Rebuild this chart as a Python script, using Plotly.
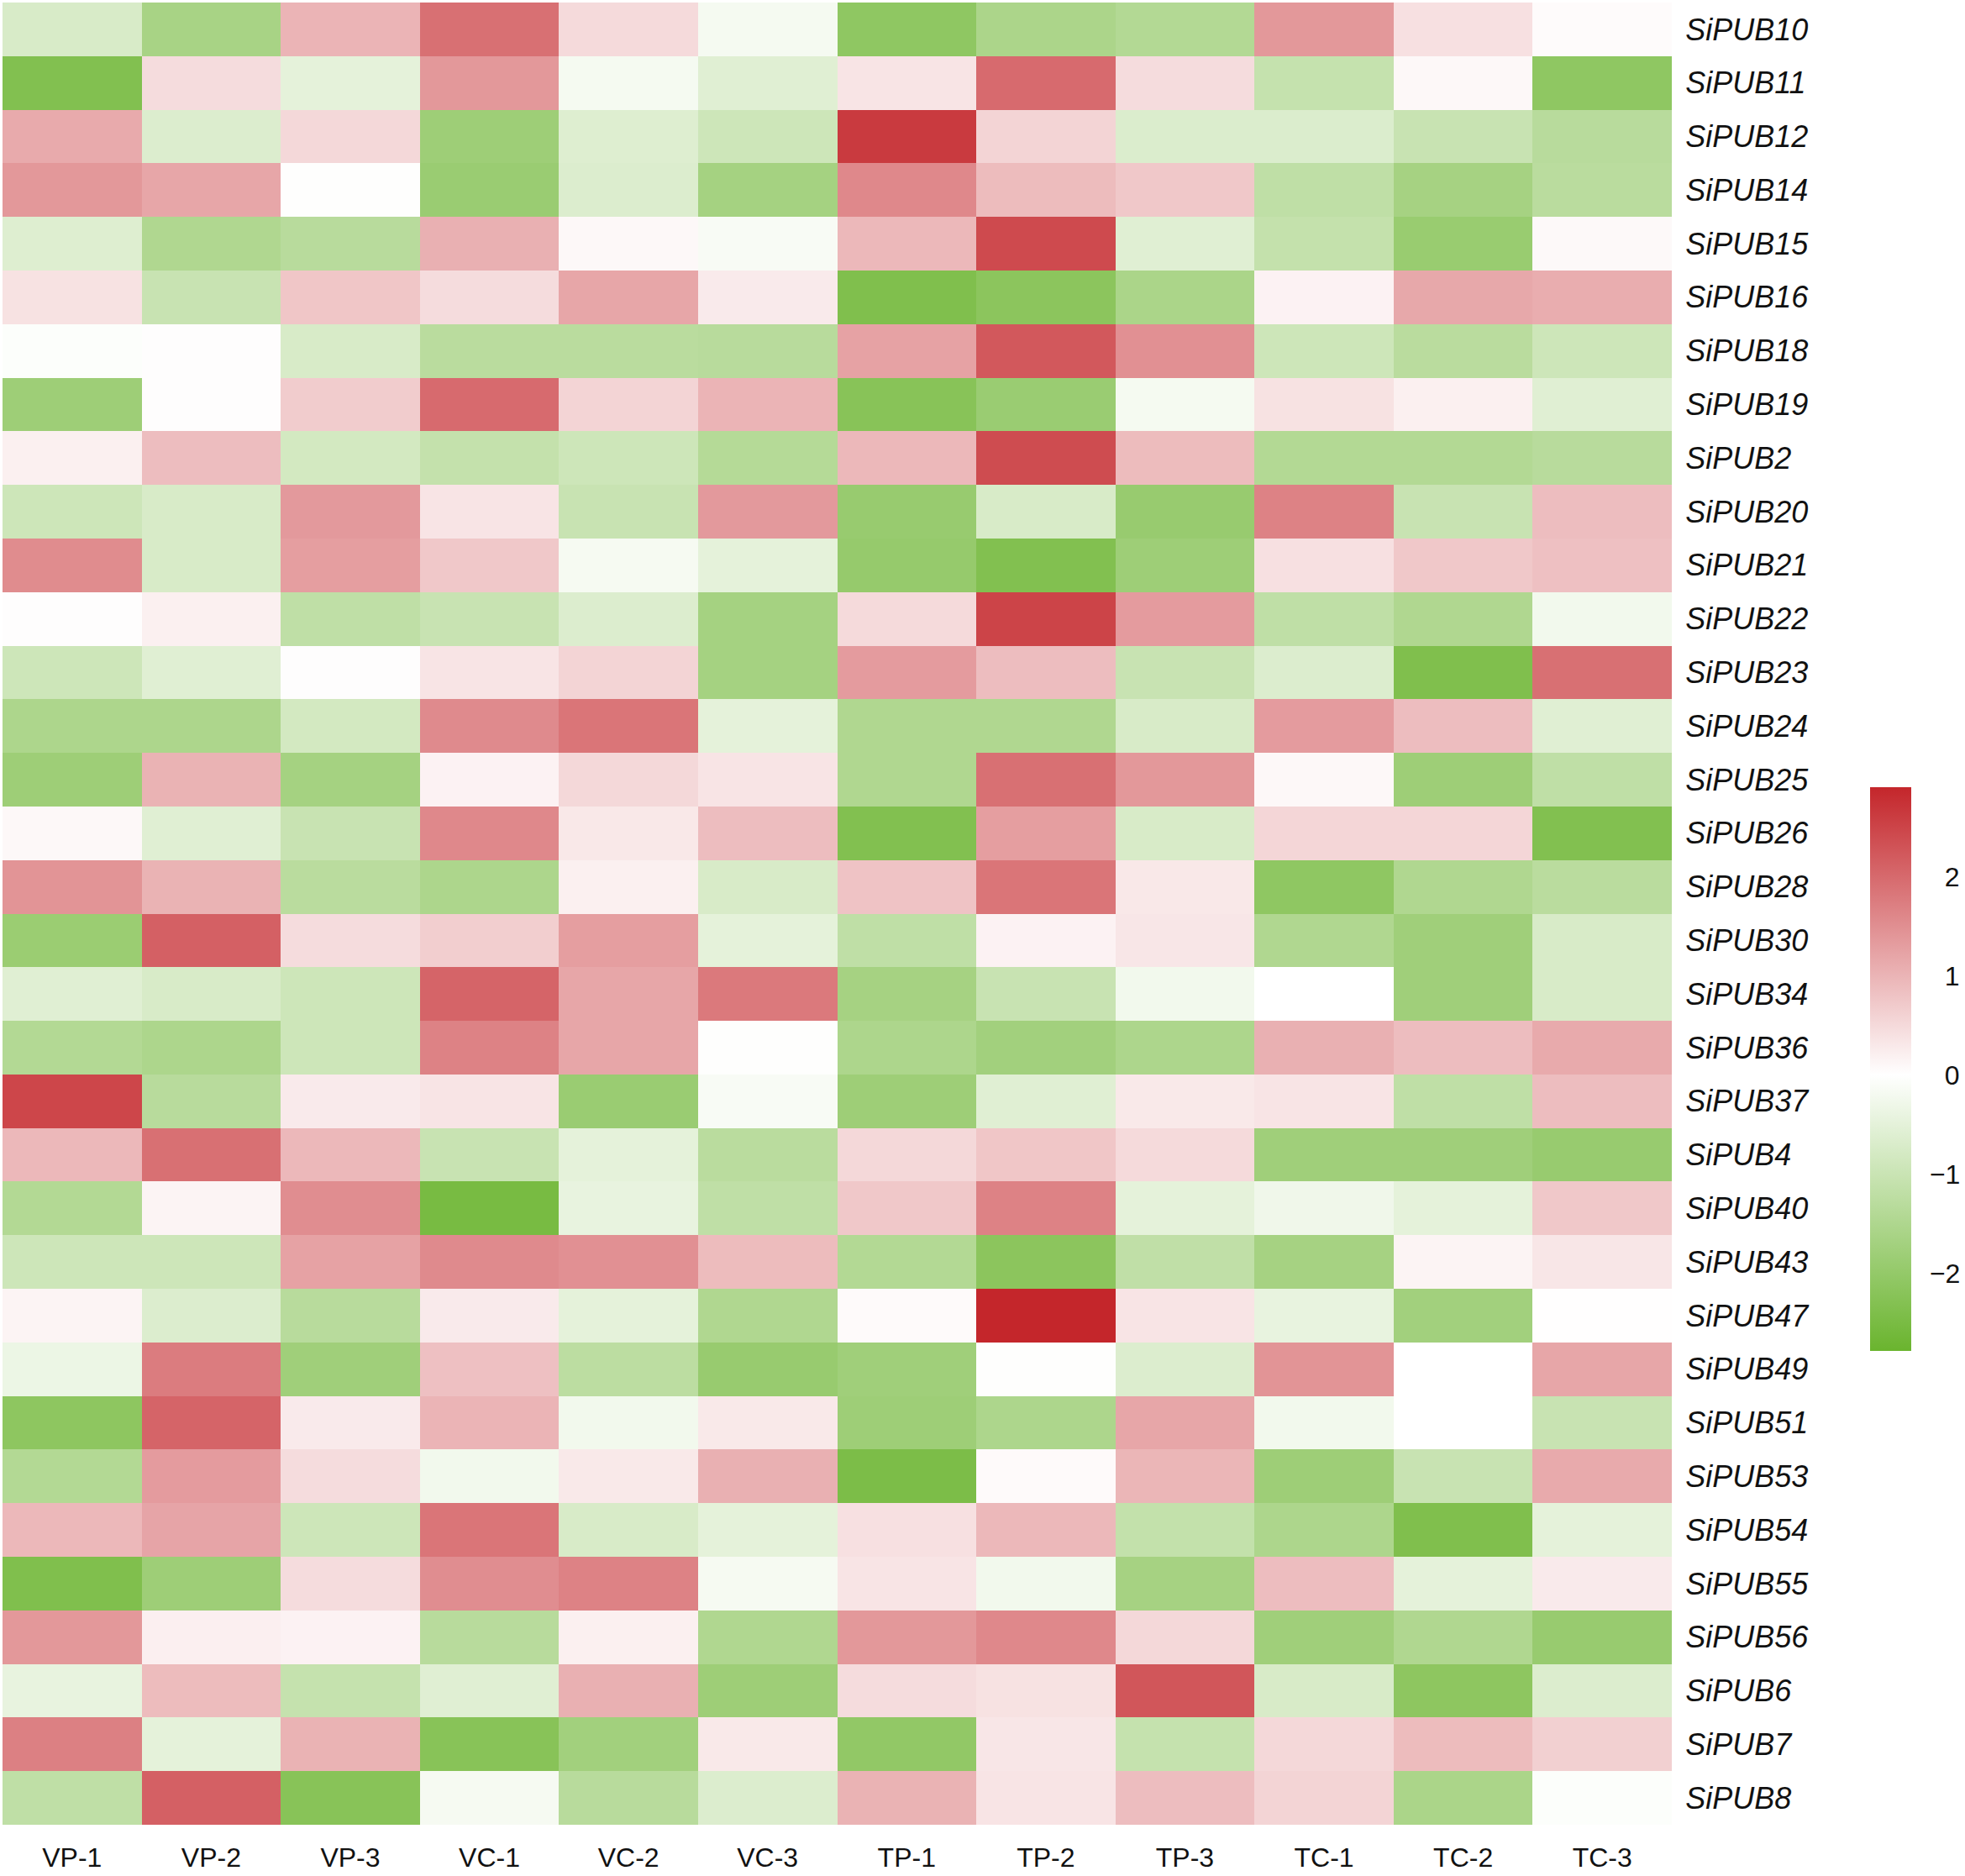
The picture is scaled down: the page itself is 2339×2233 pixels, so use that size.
import plotly.graph_objects as go

genes = ["SiPUB10", "SiPUB11", "SiPUB12", "SiPUB14", "SiPUB15", "SiPUB16", "SiPUB18",
         "SiPUB19", "SiPUB2", "SiPUB20", "SiPUB21", "SiPUB22", "SiPUB23", "SiPUB24",
         "SiPUB25", "SiPUB26", "SiPUB28", "SiPUB30", "SiPUB34", "SiPUB36", "SiPUB37",
         "SiPUB4", "SiPUB40", "SiPUB43", "SiPUB47", "SiPUB49", "SiPUB51", "SiPUB53",
         "SiPUB54", "SiPUB55", "SiPUB56", "SiPUB6", "SiPUB7", "SiPUB8"]

samples = ["VP-1", "VP-2", "VP-3", "VC-1", "VC-2", "VC-3",
           "TP-1", "TP-2", "TP-3", "TC-1", "TC-2", "TC-3"]

VP_1 = [-0.73, -2.33, 1.14, 1.38, -0.62, 0.39, -0.05, -1.81, 0.2, -0.93, 1.54, 0.03, -0.93, -1.53, -1.81, 0.1, 1.43,
        -1.87, -0.58, -1.42, 2.47, 0.95, -1.42, -0.93, 0.15, -0.35, -2.11, -1.42, 0.95, -2.37, 1.38, -0.43, 1.7, -1.19]
VP_2 = [-1.62, 0.47, -0.65, 1.19, -1.47, -1.03, 0.03, 0.03, 0.88, -0.73, -0.73, 0.2, -0.58, -1.53, 1.02, -0.58, 1.02,
        2.12, -0.73, -1.53, -1.32, 1.91, 0.15, -0.93, -0.65, 1.75, 2.07, 1.33, 1.21, -1.81, 0.21, 0.9, -0.49, 2.12]
VP_3 = [1.0, -0.49, 0.52, -0.02, -1.32, 0.76, -0.73, 0.68, -0.82, 1.36, 1.30, -1.19, 0.03, -0.82, -1.68, -1.03, -1.29,
        0.47, -0.93, -0.93, 0.28, 0.95, 1.52, 1.24, -1.32, -1.77, 0.28, 0.47, -0.93, 0.47, 0.17, -1.08, 1.02, -2.22]
VC_1 = [1.91, 1.38, -1.81, -1.88, 1.06, 0.47, -1.29, 1.99, -1.1, 0.36, 0.74, -1.03, 0.36, 1.56, 0.17, 1.59, -1.53,
        0.65, 2.07, 1.67, 0.36, -1.03, -2.52, 1.56, 0.28, 0.84, 1.0, -0.24, 1.84, 1.52, -1.32, -0.58, -2.22, -0.17]
VC_2 = [0.49, -0.19, -0.62, -0.65, 0.1, 1.19, -1.29, 0.57, -0.93, -1.03, -0.17, -0.65, 0.57, 1.84, 0.52, 0.31, 0.2,
        1.3, 1.19, 1.19, -1.88, -0.49, -0.43, 1.48, -0.49, -1.25, -0.24, 0.3, -0.73, 1.67, 0.2, 1.06, -1.73, -1.32]
VC_3 = [-0.19, -0.58, -0.93, -1.68, -0.13, 0.28, -1.32, 1.0, -1.38, 1.36, -0.49, -1.68, -1.68, -0.49, 0.36, 0.88, -0.73,
        -0.49, 1.79, -0.02, -0.13, -1.29, -1.19, 0.9, -1.47, -1.92, 0.3, 1.06, -0.49, -0.17, -1.47, -1.81, 0.3, -0.65]
TP_1 = [-2.09, 0.36, 2.63, 1.59, 0.95, -2.37, 1.24, -2.22, 0.95, -1.92, -1.96, 0.49, 1.33, -1.47, -1.47, -2.33, 0.8,
        -1.19, -1.66, -1.53, -1.81, 0.52, 0.74, -1.42, 0.07, -1.77, -1.81, -2.44, 0.41, 0.36, 1.38, 0.47, -2.03, 1.02]
TP_2 = [-1.55, 1.99, 0.57, 0.9, 2.42, -2.15, 2.23, -1.88, 2.39, -0.73, -2.33, 2.5, 0.88, -1.47, 1.91, 1.3, 1.84,
        0.17, -1.03, -1.73, -0.58, 0.76, 1.67, -2.15, 2.9, -0.02, -1.53, 0.07, 0.95, -0.24, 1.59, 0.39, 0.33, 0.36]
TP_3 = [-1.42, 0.47, -0.67, 0.74, -0.58, -1.57, 1.48, -0.19, 0.9, -1.92, -1.81, 1.33, -1.03, -0.73, 1.38, -0.73, 0.31,
        0.33, -0.24, -1.53, 0.3, 0.49, -0.49, -1.17, 0.36, -0.65, 1.19, 0.98, -1.12, -1.66, 0.52, 2.26, -1.08, 0.88]
TC_1 = [1.38, -1.08, -0.67, -1.19, -1.1, 0.17, -0.93, 0.39, -1.42, 1.67, 0.41, -1.19, -0.65, 1.33, 0.1, 0.55, -2.09,
        -1.47, 0.0, 1.06, 0.36, -1.77, -0.28, -1.66, -0.43, 1.43, -0.24, -1.81, -1.53, 0.88, -1.77, -0.73, 0.52, 0.57]
TC_2 = [0.41, 0.1, -1.03, -1.66, -1.9, 1.16, -1.29, 0.2, -1.42, -1.03, 0.74, -1.47, -2.37, 0.88, -1.81, 0.55, -1.47,
        -1.77, -1.77, 0.88, -1.19, -1.77, -0.49, 0.15, -1.73, 0.0, 0.0, -1.03, -2.37, -0.49, -1.47, -2.11, 0.9, -1.57]
TC_3 = [0.05, -2.09, -1.32, -1.29, 0.08, 1.1, -0.93, -0.58, -1.32, 0.88, 0.84, -0.24, 1.91, -0.58, -1.19, -2.33, -1.29,
        -0.73, -0.73, 1.14, 0.88, -1.92, 0.74, 0.33, 0.01, 1.19, -1.03, 1.14, -0.49, 0.28, -1.92, -0.65, 0.63, -0.05]

columns = [VP_1, VP_2, VP_3, VC_1, VC_2, VC_3, TP_1, TP_2, TP_3, TC_1, TC_2, TC_3]
for c in columns:
    assert len(c) == len(genes)

z = [[columns[j][i] for j in range(len(samples))] for i in range(len(genes))]

zmin, zmax = -2.78, 2.9
mid = (0 - zmin) / (zmax - zmin)
colorscale = [[0.0, "#6ab42e"], [mid, "#ffffff"], [1.0, "#c4262b"]]

cb_tickvals = [-2, -1, 0, 1, 2]
# right-aligned look: pad non-negative labels with a figure space
cb_ticktext = ["\u22122", "\u22121", "\u20070", "\u20071", "\u20072"]

FONT = "Liberation Sans, Arial, sans-serif"

fig = go.Figure(go.Heatmap(
    z=z, x=samples, y=genes,
    colorscale=colorscale, zmin=zmin, zmax=zmax,
    xgap=0, ygap=0,
    colorbar=dict(
        x=1.119, xanchor="left", xref="paper",
        y=0.4147, yanchor="middle",
        xpad=0, ypad=0,
        lenmode="pixels", len=671,
        thicknessmode="pixels", thickness=49,
        outlinewidth=0,
        tickvals=cb_tickvals, ticktext=cb_ticktext,
        ticks="outside", ticklen=16, tickcolor="rgba(0,0,0,0)",
        tickfont=dict(family=FONT, size=32, color="#111111"),
    ),
))

fig.update_layout(
    width=2339, height=2233,
    margin=dict(l=3, r=349, t=3, b=61, autoexpand=False),
    paper_bgcolor="white", plot_bgcolor="white",
    font=dict(family=FONT, color="#111111"),
)
fig.update_xaxes(
    side="bottom", showgrid=False, zeroline=False, showline=False,
    ticks="outside", ticklen=11, tickcolor="rgba(0,0,0,0)",
    tickfont=dict(family=FONT, size=32, color="#111111"),
)
fig.update_yaxes(
    side="right", autorange="reversed", showgrid=False, zeroline=False, showline=False,
    ticks="outside", ticklen=8, tickcolor="rgba(0,0,0,0)",
    tickfont=dict(family=FONT, size=36, color="#111111", style="italic"),
)

fig.write_html(
    "out.html",
    config={"displayModeBar": False},
    post_script="document.body.style.margin='0';document.body.style.overflow='hidden';",
)
